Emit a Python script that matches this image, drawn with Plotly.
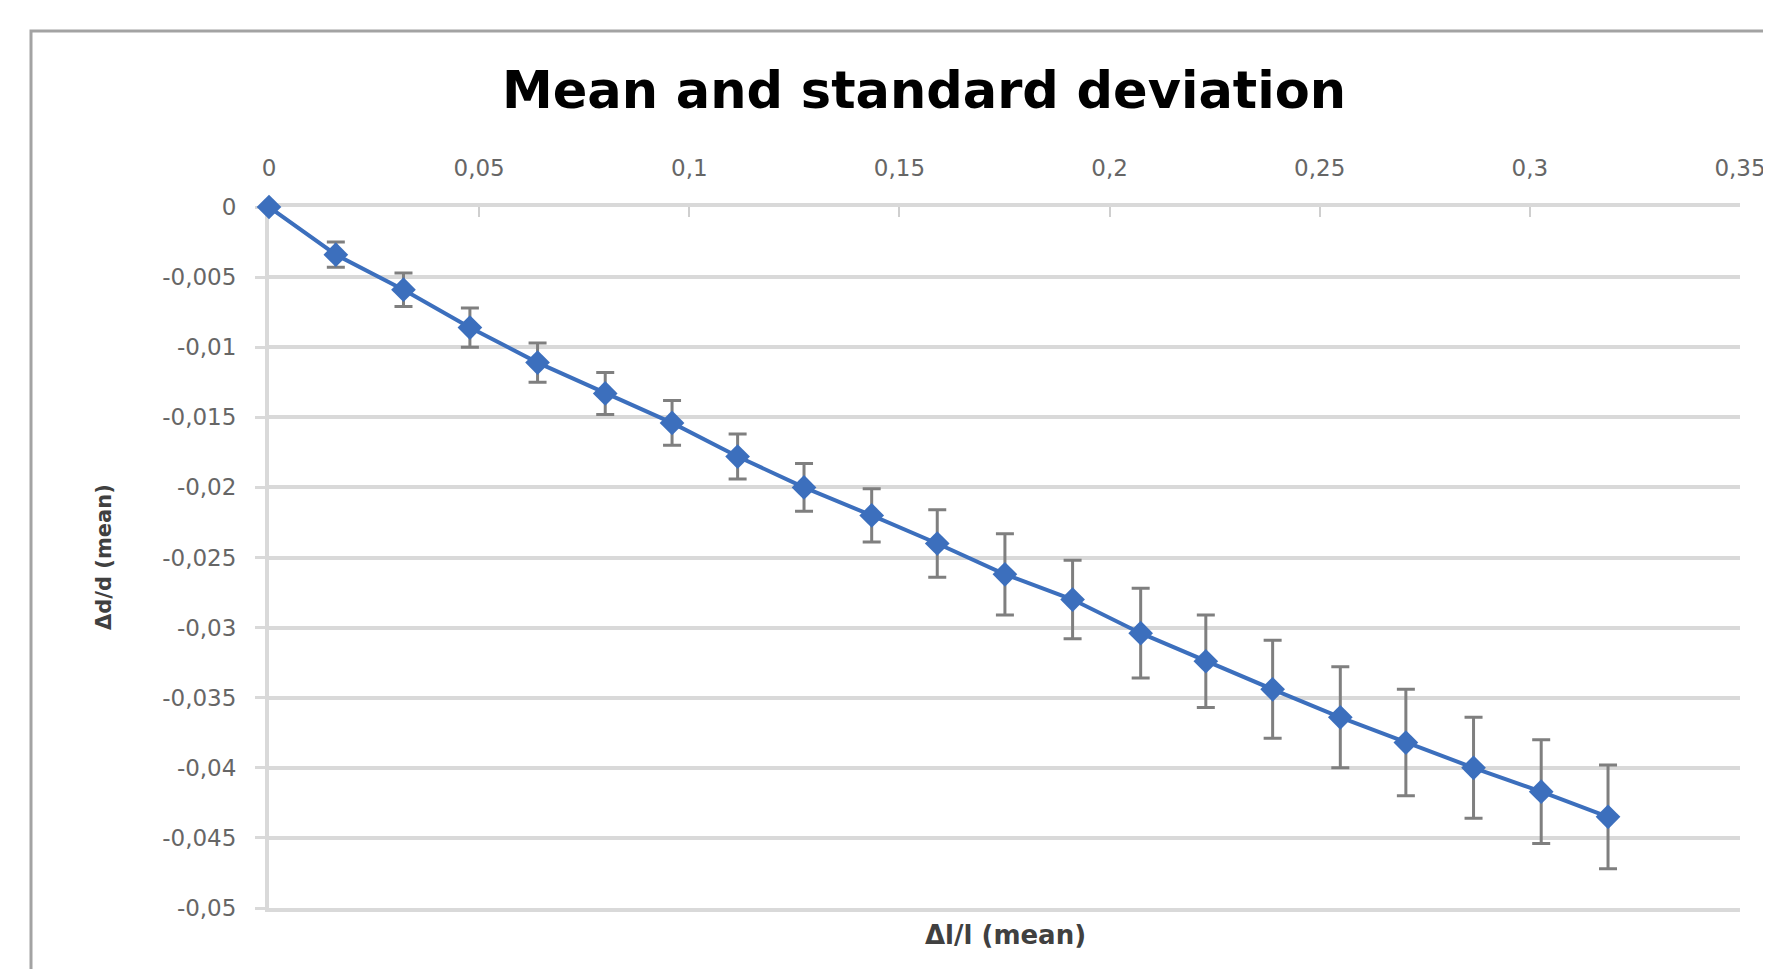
import plotly.graph_objects as go

# ---- data ----
strain_x = [0, 0.0159, 0.0320, 0.0478, 0.0639, 0.0800, 0.0959, 0.1115, 0.1273, 0.1434,
            0.1590, 0.1751, 0.1912, 0.2074, 0.2229, 0.2388, 0.2549, 0.2705, 0.2866,
            0.3027, 0.3186]
mean_y = [0, -0.0034, -0.0059, -0.0086, -0.0111, -0.0133, -0.0154, -0.0178, -0.0200,
          -0.0220, -0.0240, -0.0262, -0.0280, -0.0304, -0.0324, -0.0344, -0.0364,
          -0.0382, -0.0400, -0.0417, -0.0435]
std_y = [0, 0.0009, 0.0012, 0.0014, 0.0014, 0.0015, 0.0016, 0.0016, 0.0017, 0.0019,
         0.0024, 0.0029, 0.0028, 0.0032, 0.0033, 0.0035, 0.0036, 0.0038, 0.0036,
         0.0037, 0.0037]

x_tickvals = [0, 0.05, 0.1, 0.15, 0.2, 0.25, 0.3, 0.35]
x_ticktext = ["0", "0,05", "0,1", "0,15", "0,2", "0,25", "0,3", "0,35"]
y_tickvals = [0, -0.005, -0.01, -0.015, -0.02, -0.025, -0.03, -0.035, -0.04, -0.045, -0.05]
y_ticktext = ["0", "-0,005", "-0,01", "-0,015", "-0,02", "-0,025", "-0,03", "-0,035",
              "-0,04", "-0,045", "-0,05"]

title_text = "Mean and standard deviation"
x_title = "Δl/l (mean)"
y_title = "Δd/d (mean)"

W, H = 1771, 969
OFF = 8  # page body margin offset
L, R, T, B = 269 - OFF, 1740 - OFF, 207 - OFF, 908 - OFF  # plot area in pixels
pw, ph = R - L, B - T


def px_x(px):
    return (px - OFF - L) / pw


def px_y(py):
    return (B - (py - OFF)) / ph


fig = go.Figure()
fig.add_trace(go.Scatter(
    x=strain_x, y=mean_y, mode="lines+markers",
    line=dict(color="#3c6fbd", width=4),
    marker=dict(symbol="diamond", size=19, color="#3c6fbd"),
    error_y=dict(type="data", array=std_y, visible=True, color="#7f7f7f",
                 thickness=3, width=9),
    cliponaxis=False, showlegend=False,
))

grid_col = "#d9d9d9"
tick_font = dict(family="DejaVu Sans", size=23, color="#666666")

fig.update_layout(
    width=W, height=H,
    margin=dict(l=L, r=W - R, t=T, b=H - B),
    paper_bgcolor="white", plot_bgcolor="white",
    title=dict(text="<b>" + title_text + "</b>", xref="paper", x=px_x(924),
               xanchor="center", yref="container", y=1 - (90 - OFF) / H, yanchor="middle",
               font=dict(family="DejaVu Sans", size=51, color="#000000")),
    xaxis=dict(range=[0, 0.35], side="top", tickvals=x_tickvals, ticktext=x_ticktext,
               showgrid=False, zeroline=False, layer="below traces",
               showline=True, mirror=True, linecolor=grid_col, linewidth=4,
               ticks="inside", ticklen=10, tickwidth=2, tickcolor="#cfcfcf",
               ticklabelstandoff=18, tickfont=tick_font),
    yaxis=dict(range=[-0.05, 0], tickvals=y_tickvals, ticktext=y_ticktext,
               showgrid=True, gridcolor=grid_col, gridwidth=4, layer="below traces",
               zeroline=False, showline=True, linecolor=grid_col, linewidth=4,
               ticks="outside", ticklen=10, tickwidth=3, tickcolor=grid_col,
               ticklabelstandoff=14, tickfont=tick_font),
    shapes=[dict(type="rect", xref="paper", yref="paper",
                 x0=px_x(31), x1=px_x(W + 40), y0=px_y(H + 40), y1=px_y(31),
                 line=dict(color="#a3a3a3", width=3), fillcolor="rgba(0,0,0,0)",
                 layer="below")],
    annotations=[
        dict(text="<b>" + x_title + "</b>", xref="paper", yref="paper",
             x=px_x(1005), y=px_y(935), xanchor="center", yanchor="middle",
             showarrow=False, font=dict(family="DejaVu Sans", size=26, color="#404040")),
        dict(text="<b>" + y_title + "</b>", xref="paper", yref="paper",
             x=px_x(104), y=px_y(557), xanchor="center", yanchor="middle",
             textangle=-90, showarrow=False,
             font=dict(family="DejaVu Sans", size=21, color="#404040")),
    ],
)

fig.write_html("out.html")
